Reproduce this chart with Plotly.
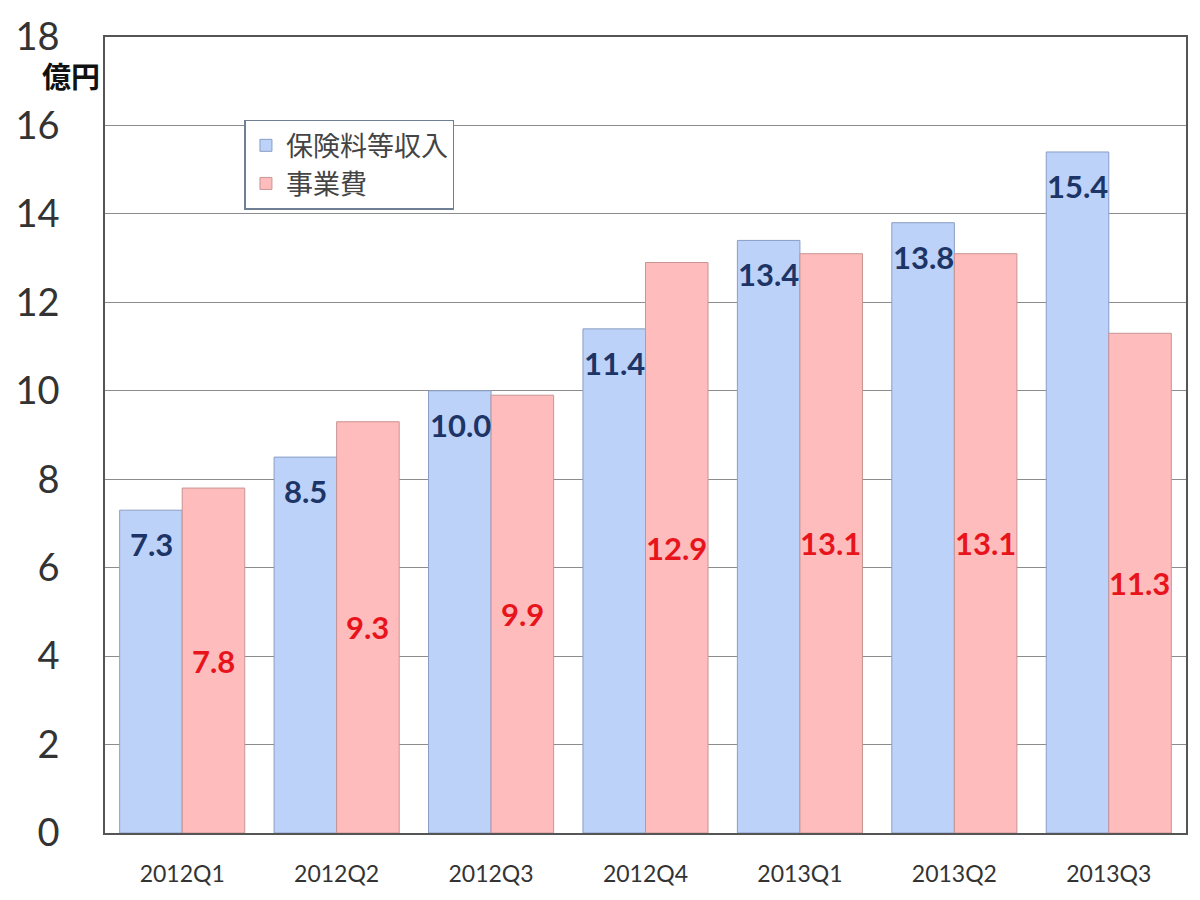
import plotly.graph_objects as go

categories = ["2012Q1", "2012Q2", "2012Q3", "2012Q4", "2013Q1", "2013Q2", "2013Q3"]
premium = [7.3, 8.5, 10.0, 11.4, 13.4, 13.8, 15.4]
expense = [7.8, 9.3, 9.9, 12.9, 13.1, 13.1, 11.3]
series_names = ["保険料等収入", "事業費"]
y_ticks = [0, 2, 4, 6, 8, 10, 12, 14, 16, 18]

fig = go.Figure()
fig.add_trace(go.Bar(
    x=categories, y=premium, name=series_names[0],
    marker=dict(color="#bdd2f8", line=dict(color="#8a9dc4", width=1)),
))
fig.add_trace(go.Bar(
    x=categories, y=expense, name=series_names[1],
    marker=dict(color="#ffbcbc", line=dict(color="#c99494", width=1)),
))

label_font = dict(family="Lato, 'Open Sans', sans-serif", size=31)
for c, v in zip(categories, premium):
    fig.add_annotation(x=c, y=v, text=f"<b>{v:.1f}</b>", showarrow=False,
                       xshift=-31, yshift=-34, font=dict(color="#1c3466", **label_font))
for c, v in zip(categories, expense):
    fig.add_annotation(x=c, y=v / 2, text=f"<b>{v:.1f}</b>", showarrow=False,
                       xshift=31, font=dict(color="#e8141c", **label_font))

fig.add_annotation(xref="paper", yref="paper", x=0, y=0.952, xanchor="right", yanchor="middle",
                   xshift=-3, text="<b>億円</b>", showarrow=False,
                   font=dict(family="Noto Sans CJK JP", size=29, color="#111"))

fig.update_layout(
    width=1200, height=900,
    margin=dict(l=105, r=12, t=37, b=67),
    paper_bgcolor="white", plot_bgcolor="white",
    barmode="group", bargap=0.19, bargroupgap=0,
    legend=dict(x=0.129, y=0.896, xanchor="left", yanchor="top",
                bordercolor="#6f7f94", borderwidth=1.5, bgcolor="white",
                font=dict(family="Noto Sans CJK JP", size=27, color="#444"),
                itemwidth=30, tracegroupgap=0),
    font=dict(family="Lato, sans-serif", color="#333"),
    showlegend=True,
)
fig.update_xaxes(showline=True, linecolor="#555", linewidth=1.5, mirror=True,
                 tickfont=dict(size=23, color="#333", family="Lato, 'Open Sans', sans-serif"),
                 ticks="", ticklabelstandoff=20)
fig.update_yaxes(range=[0, 18], tickvals=y_ticks, showgrid=True, gridcolor="#8c8c8c", gridwidth=1,
                 showline=True, linecolor="#555", linewidth=1.5, mirror=True,
                 tickfont=dict(size=38, color="#333", family="Lato, 'Open Sans', sans-serif"),
                 ticks="", ticklabelstandoff=36, zeroline=False)

fig.write_html("out.html")
